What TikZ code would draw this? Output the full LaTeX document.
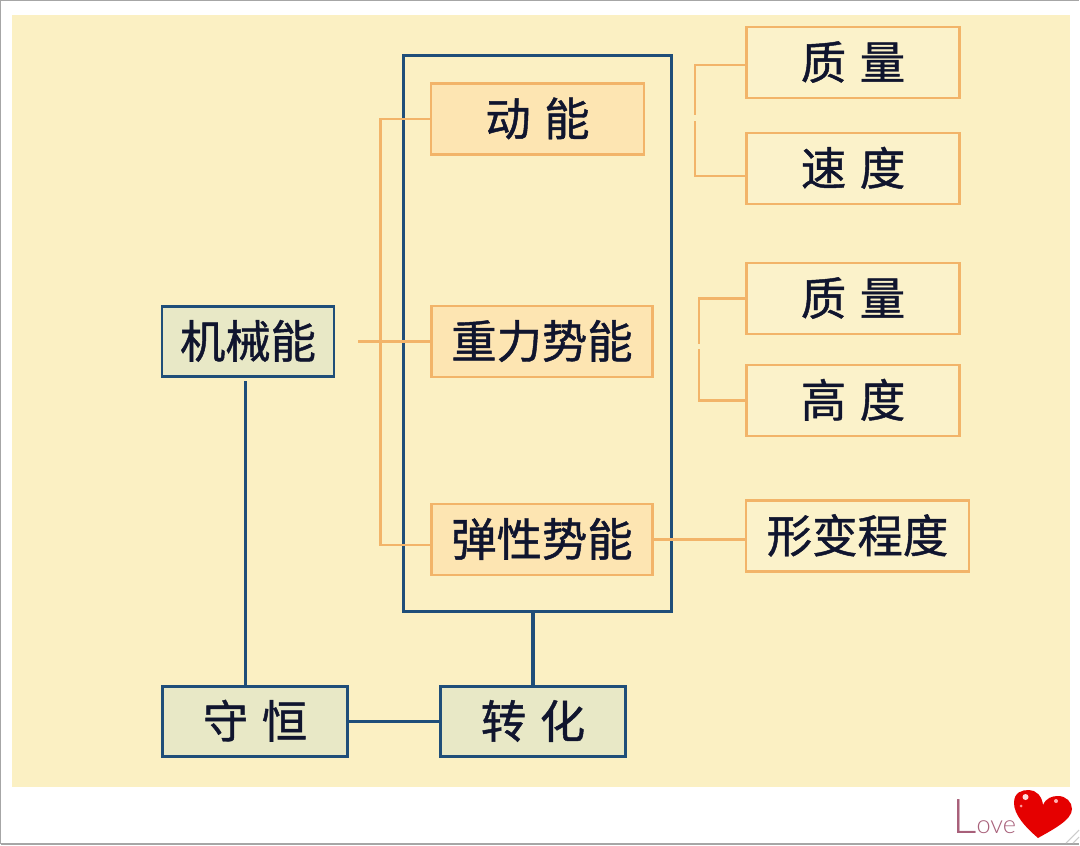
\documentclass[tikz,border=0pt]{standalone}
\usepackage{fontspec}
\setmainfont{Noto Sans CJK SC}[FakeBold=1.0]
\setsansfont{Lato Light}
\usepackage{tikz}
\usetikzlibrary{positioning}
\definecolor{paper}{HTML}{FBF0C3}
\definecolor{bluel}{HTML}{1F4E79}
\definecolor{orangel}{HTML}{F2B469}
\definecolor{greenf}{HTML}{E8E8C6}
\definecolor{orangef}{HTML}{FDE5B2}
\definecolor{inkc}{HTML}{10152E}
\definecolor{lovec}{HTML}{A8607A}
\newcommand{\wgap}{\hspace{0.3em}}

\begin{document}
\begin{tikzpicture}[x=0.75pt,y=-0.75pt,
	greenbox/.style={draw=bluel,line width=2.2pt,fill=greenf,text=inkc,font=\fontsize{34}{36}\selectfont,inner sep=0pt,text height=29pt,text depth=4pt,minimum height=53pt},
	orangebox/.style={draw=orangel,line width=1.9pt,fill=orangef,text=inkc,font=\fontsize{34}{36}\selectfont,inner sep=0pt,text height=29pt,text depth=4pt,minimum height=53pt},
	plainbox/.style={orangebox,fill=paper!88!white,minimum width=160pt},
	orangewire/.style={draw=orangel,line width=1.9pt},
	bluewire/.style={draw=bluel,line width=2.4pt}]
	\useasboundingbox (0,0) rectangle (1080,845);
	\fill [white] (0,0) rectangle (1080,845);
	\draw [gray!70,line width=1.2pt] (0.5,844) -- (0.5,0.5) -- (1079,0.5);
	\draw [gray!70,line width=1pt] (0.5,844) -- (1079,844);
	\draw [gray!40,line width=0.8pt] (1066,843) -- (1079,830);
	\draw [gray!40,line width=0.8pt] (1073,843) -- (1079,837);
	\fill [paper] (12,15) rectangle (1070,787);

	\node [draw=bluel,line width=2.2pt,minimum width=201.5pt,minimum height=417.5pt,inner sep=0pt] (frame) at (537.5,333.5) {};

	\node [greenbox,minimum width=129pt] (jixie) at (248,341.5) {机械能};
	\node [orangebox,minimum width=160pt] (dongneng) at (537.5,119) {动\wgap 能};
	\node [orangebox,minimum width=166pt] (zhongli) at (542,341.5) {重力势能};
	\node [orangebox,minimum width=166pt] (tanxing) at (542,539.5) {弹性势能};
	\node [plainbox] (zhiliang1) at (853,62.5) {质\wgap 量};
	\node [plainbox] (sudu) at (853,168.5) {速\wgap 度};
	\node [plainbox] (zhiliang2) at (853,298.5) {质\wgap 量};
	\node [plainbox] (gaodu) at (853,400.5) {高\wgap 度};
	\node [plainbox,minimum width=167pt] (xingbian) at (857.5,536) {形变程度};
	\node [greenbox,minimum width=139pt] (shouheng) at (255,721.5) {守\wgap 恒};
	\node [greenbox,minimum width=139pt] (zhuanhua) at (533,721.5) {转\wgap 化};

	\coordinate (trunktop) at (380.4,119);
	\coordinate (trunkbot) at (380.4,545);
	\coordinate (tanxingin) at (431,545);
	\coordinate (jixieout) at (358,341.5);
	\coordinate (jixiedown) at (245.4,381);
	\coordinate (shouup) at (245.4,686);
	\coordinate (zhiliangin) at (746,65);
	\coordinate (suduin) at (746,176);
	\coordinate (bracketa) at (695,115);
	\coordinate (bracketb) at (695,121);
	\coordinate (bracketc) at (699,344);
	\coordinate (bracketd) at (699,349);

	\draw [orangewire] (dongneng.west) -- (trunktop) -- (trunkbot) -- (tanxingin);
	\draw [orangewire] (jixieout) to (zhongli.west);
	\draw [orangewire] (zhiliangin) -| (bracketa);
	\draw [orangewire] (suduin) -| (bracketb);
	\draw [orangewire] (zhiliang2.west) -| (bracketc);
	\draw [orangewire] (gaodu.west) -| (bracketd);
	\draw [orangewire] (tanxing.east) to (tanxing.east -| xingbian.west);
	\draw [bluewire] (jixiedown) to (shouup);
	\draw [bluewire] (shouheng) to (zhuanhua);
	\draw [bluewire] (zhuanhua.north) to (zhuanhua.north |- frame.south);

	\node [lovec,font=\sffamily\fontsize{19}{20}\selectfont,inner sep=0pt,anchor=base west] (love) at (952,833) {{\fontsize{36}{36}\selectfont L}ove};

	\fill [red!90!black] (1038,838) .. controls (1024,826) and (1014,814) .. (1014,803) .. controls (1014,792) and (1022,790) .. (1029,790) .. controls (1036,790) and (1042,796) .. (1043,805) .. controls (1046,798) and (1052,796) .. (1058,796) .. controls (1066,796) and (1072,802) .. (1072,809) .. controls (1072,820) and (1052,830) .. (1038,838) -- cycle;
	\fill [white!85!red] (1025.5,797) circle (3);
	\fill [white!60!red] (1021,806) circle (1.5);
	\fill [white!70!red] (1056,801) circle (2);
\end{tikzpicture}
\end{document}
